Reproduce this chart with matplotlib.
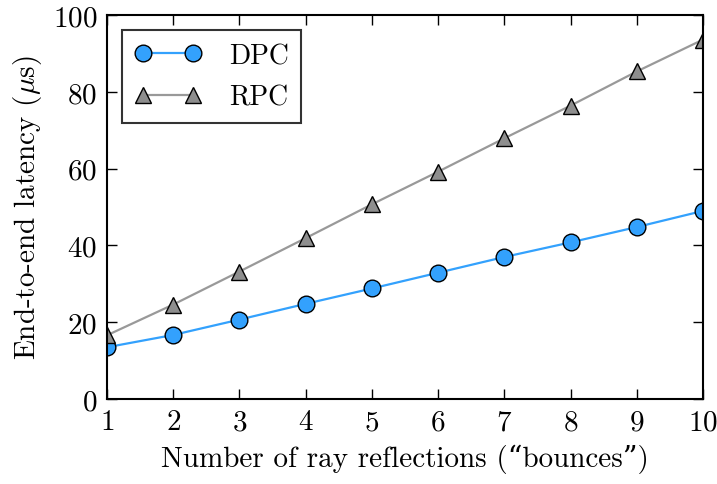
import matplotlib
matplotlib.use('Agg')
import matplotlib.pyplot as plt

# data
bounces = [1, 2, 3, 4, 5, 6, 7, 8, 9, 10]
dpc = [13.5, 16.7, 20.7, 24.8, 28.8, 32.9, 37.0, 40.8, 44.8, 49.0]
rpc = [16.6, 24.6, 33.2, 41.9, 50.7, 59.2, 67.9, 76.4, 85.3, 93.6]
y_ticks = [0, 20, 40, 60, 80, 100]

plt.rcParams['font.family'] = ['cmr10', 'DejaVu Serif']
plt.rcParams['mathtext.fontset'] = 'cm'
plt.rcParams['axes.formatter.use_mathtext'] = True
plt.rcParams['font.size'] = 18

fig = plt.figure(figsize=(7.17, 4.85), dpi=100)
ax = fig.add_axes([0.149, 0.175, 0.8315, 0.792])

ax.plot(bounces, dpc, color='#33A1FD', lw=1.6, marker='o', ms=12,
        markerfacecolor='#33A1FD', markeredgecolor='black', markeredgewidth=1.0,
        label='DPC', zorder=3)
ax.plot(bounces, rpc, color='#999999', lw=1.6, marker='^', ms=12,
        markerfacecolor='#8E8E8E', markeredgecolor='black', markeredgewidth=1.0,
        label='RPC', zorder=3)

ax.set_xlim(1, 10)
ax.set_ylim(0, 100)
ax.set_xticks(bounces)
ax.set_yticks(y_ticks)
ax.tick_params(direction='in', length=7, width=1, top=True, right=True,
               pad=7, labelsize=21)
for s in ax.spines.values():
    s.set_linewidth(1.5)
    s.set_zorder(5)

ax.set_xlabel('Number of ray reflections (\u201cbounces\u201d)', fontsize=21, labelpad=6)
ax.set_ylabel(r'End-to-end latency ($\mu$s)', fontsize=21, labelpad=6)

leg = ax.legend(loc='upper left', numpoints=2, fancybox=False, frameon=True,
                fontsize=20, borderpad=0.45, handlelength=2.4, labelspacing=0.55,
                handletextpad=1.0, borderaxespad=0.55)
leg.get_frame().set_edgecolor('black')
leg.get_frame().set_linewidth(1.5)

fig.savefig('out.png', dpi=100)
